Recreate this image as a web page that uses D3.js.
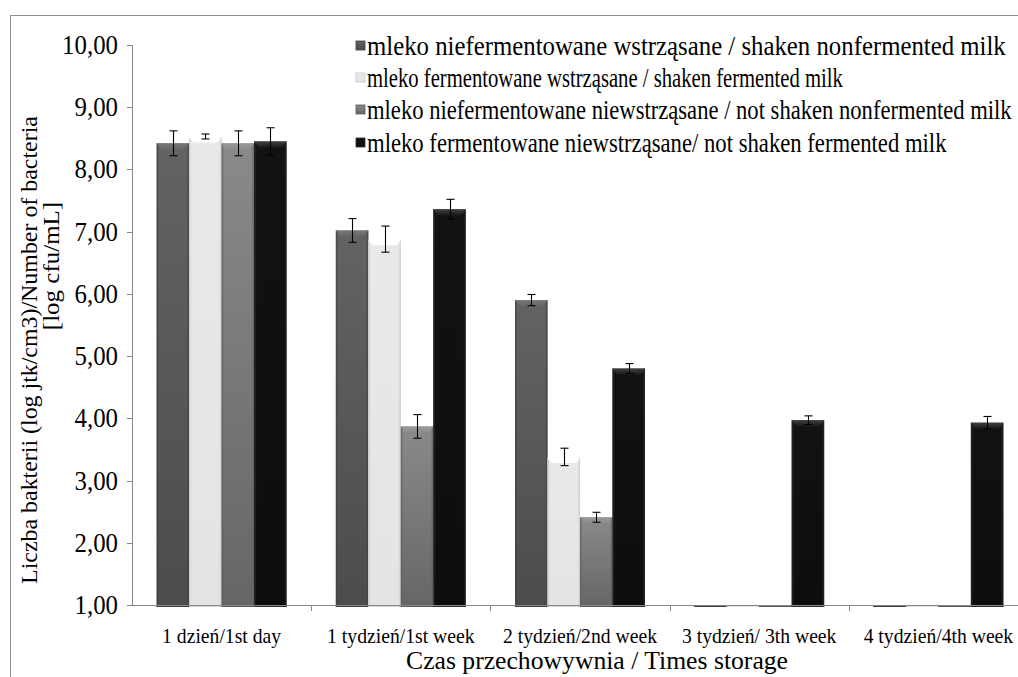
<!DOCTYPE html>
<html>
<head>
<meta charset="utf-8">
<script src="https://cdn.jsdelivr.net/npm/d3@7"></script>
<style>
  html, body { margin: 0; padding: 0; background: #fff; }
  svg { display: block; }
  text { font-family: "Liberation Serif", "Times New Roman", serif; fill: #000; }
</style>
</head>
<body>
<svg id="chart" width="1018" height="677"></svg>
<script>
// Storage time categories
const categories = ["1 dzień/1st day", "1 tydzień/1st week", "2 tydzień/2nd week", "3 tydzień/ 3th week", "4 tydzień/4th week"];

// Series names (legend)
const seriesNames = [
  "mleko niefermentowane wstrząsane / shaken nonfermented milk",
  "mleko fermentowane wstrząsane / shaken fermented milk",
  "mleko niefermentowane niewstrząsane / not shaken nonfermented milk",
  "mleko fermentowane niewstrząsane/ not shaken fermented milk"
];

// Mean counts [log cfu/mL] per category
const shakenNonfermented    = [8.42, 7.02, 5.90, 1.00, 1.00];
const shakenFermented       = [8.53, 6.88, 3.38, 1.00, 1.00];
const notShakenNonfermented = [8.42, 3.87, 2.41, 1.00, 1.00];
const notShakenFermented    = [8.45, 7.36, 4.80, 3.97, 3.93];

// Standard deviations
const errShakenNonfermented    = [0.20, 0.19, 0.09, 0, 0];
const errShakenFermented       = [0.04, 0.21, 0.14, 0, 0];
const errNotShakenNonfermented = [0.20, 0.19, 0.08, 0, 0];
const errNotShakenFermented    = [0.22, 0.16, 0.08, 0.07, 0.10];

// Y axis tick values
const yTicks = [1, 2, 3, 4, 5, 6, 7, 8, 9, 10];

const seriesValues = [shakenNonfermented, shakenFermented, notShakenNonfermented, notShakenFermented];
const seriesErrors = [errShakenNonfermented, errShakenFermented, errNotShakenNonfermented, errNotShakenFermented];

const svg = d3.select("#chart");
const W = 1018, H = 677;
const plot = { left: 132, right: 1028, top: 45, bottom: 605 };
const SQ = 0.9; // horizontal condensing of the lettering

// Text placed at an anchor point; horizontal text is squeezed along x,
// rotated text keeps its length and has its glyph height squeezed instead
function label(parent, o) {
  const g = parent.append("g")
    .attr("transform", `translate(${o.x},${o.y})` + (o.rotate ? " rotate(-90)" : ""));
  const t = g.append("text")
    .attr("x", 0).attr("y", 0)
    .attr("font-size", o.size)
    .attr("text-anchor", o.anchor || "start")
    .text(o.text);
  const n = t.node().getComputedTextLength();
  if (o.rotate) {
    const s = o.width ? o.width / n : 1;
    t.attr("transform", `scale(${s},${SQ})`);
  } else {
    const s = o.width ? o.width / n : (o.k || SQ);
    t.attr("transform", `scale(${s},1)`);
  }
  return t;
}

// Outer chart frame
svg.append("rect")
  .attr("x", 10.5).attr("y", 15.5)
  .attr("width", W + 20).attr("height", H + 20)
  .attr("fill", "none").attr("stroke", "#8e8e8e").attr("stroke-width", 1);

const x0 = d3.scaleBand().domain(categories).range([plot.left, plot.right])
  .paddingInner(0.275).paddingOuter(0.1375);
const x1 = d3.scaleBand().domain(d3.range(4)).range([0, x0.bandwidth()]).padding(0);
const y = d3.scaleLinear().domain([1, 10]).range([plot.bottom, plot.top]);

// Fills: vertical shading per series (lighter towards the top)
const fills = [
  { top: "#636363", bottom: "#4c4c4c", edge: "#3e3e3e", bevel: "#7a7a7a" },
  { top: "#e9e9e9", bottom: "#e4e4e4", edge: "#c8c8c8", bevel: "#f6f6f6" },
  { top: "#8a8a8a", bottom: "#666666", edge: "#5a5a5a", bevel: "#9c9c9c" },
  { top: "#121311", bottom: "#0d0e0c", edge: "#2a2a2a", bevel: "#454545" }
];
const defs = svg.append("defs");
fills.forEach((f, i) => {
  const g = defs.append("linearGradient").attr("id", "fillV" + i)
    .attr("x1", 0).attr("y1", 0).attr("x2", 0).attr("y2", 1);
  g.append("stop").attr("offset", "0%").attr("stop-color", f.top);
  g.append("stop").attr("offset", "100%").attr("stop-color", f.bottom);
  const h = defs.append("linearGradient").attr("id", "edgeH" + i)
    .attr("x1", 0).attr("y1", 0).attr("x2", 1).attr("y2", 0);
  h.append("stop").attr("offset", "0%").attr("stop-color", f.edge).attr("stop-opacity", 0.8);
  h.append("stop").attr("offset", "8%").attr("stop-color", f.edge).attr("stop-opacity", 0);
  h.append("stop").attr("offset", "92%").attr("stop-color", f.edge).attr("stop-opacity", 0);
  h.append("stop").attr("offset", "100%").attr("stop-color", f.edge).attr("stop-opacity", 0.8);
  const b = defs.append("linearGradient").attr("id", "bevel" + i)
    .attr("x1", 0).attr("y1", 0).attr("x2", 0).attr("y2", 1);
  b.append("stop").attr("offset", "0%").attr("stop-color", f.bevel).attr("stop-opacity", 0.9);
  b.append("stop").attr("offset", "100%").attr("stop-color", f.bevel).attr("stop-opacity", 0);
});

// Bars
const barData = [];
categories.forEach((c, ci) => {
  seriesValues.forEach((vals, si) => {
    barData.push({ cat: c, s: si, v: vals[ci], e: seriesErrors[si][ci] });
  });
});

const bars = svg.append("g").attr("class", "bars");
const base = y(1) + 2;
barData.forEach(d => {
  const bx = x0(d.cat) + x1(d.s);
  const bw = x1.bandwidth();
  const ty = y(d.v);
  const g = bars.append("g");
  if (d.s === 1) {
    // light series: dished top
    const dip = Math.min(6, base - ty);
    const path = d3.path();
    path.moveTo(bx, base);
    path.lineTo(bx, ty);
    path.quadraticCurveTo(bx + 2, ty + dip, bx + 7, ty + dip);
    path.lineTo(bx + bw - 7, ty + dip);
    path.quadraticCurveTo(bx + bw - 2, ty + dip, bx + bw, ty);
    path.lineTo(bx + bw, base);
    path.closePath();
    g.append("path").attr("d", path.toString()).attr("fill", "url(#fillV1)");
    g.append("path").attr("d", path.toString()).attr("fill", "url(#edgeH1)");
  } else {
    g.append("rect").attr("x", bx).attr("y", ty).attr("width", bw).attr("height", base - ty)
      .attr("fill", "url(#fillV" + d.s + ")");
    g.append("rect").attr("x", bx).attr("y", ty).attr("width", bw).attr("height", base - ty)
      .attr("fill", "url(#edgeH" + d.s + ")");
    if (base - ty > 8) {
      g.append("path")
        .attr("d", `M${bx},${ty}L${bx + bw},${ty}L${bx + bw - 5},${ty + 7}L${bx + 5},${ty + 7}Z`)
        .attr("fill", "url(#bevel" + d.s + ")");
    }
  }
  // bottom edge line
  g.append("rect").attr("x", bx).attr("y", base - 2).attr("width", bw).attr("height", 2)
    .attr("fill", fills[d.s].edge).attr("opacity", d.s === 1 ? 0.5 : 1);
});

// Axes
const axisColor = "#878787";
svg.append("line").attr("x1", plot.left + 0.5).attr("x2", plot.left + 0.5)
  .attr("y1", plot.top).attr("y2", plot.bottom).attr("stroke", axisColor);
svg.append("line").attr("x1", plot.left).attr("x2", plot.right)
  .attr("y1", plot.bottom + 0.5).attr("y2", plot.bottom + 0.5).attr("stroke", axisColor);

// Y ticks & labels
const fmt = v => v.toFixed(2).replace(".", ",");
const yLab = svg.append("g");
yTicks.forEach(t => {
  svg.append("line").attr("x1", plot.left - 5).attr("x2", plot.left)
    .attr("y1", Math.round(y(t)) + 0.5).attr("y2", Math.round(y(t)) + 0.5).attr("stroke", axisColor);
  label(yLab, { x: 118, y: y(t) + 9, text: fmt(t), size: 27, anchor: "end", k: 0.92 });
});

// X category boundary ticks
categories.slice(1).forEach(c => {
  const xx = Math.round(x0(c) - x0.step() * x0.paddingInner() / 2) + 0.5;
  svg.append("line").attr("x1", xx).attr("x2", xx).attr("y1", plot.bottom).attr("y2", plot.bottom + 6)
    .attr("stroke", axisColor);
});

// Category labels
const catG = svg.append("g");
const probe = catG.append("text").attr("font-size", 22).text(categories[0]);
const kCat = 119 / probe.node().getComputedTextLength();
probe.remove();
categories.forEach(c => {
  label(catG, { x: x0(c) + x0.bandwidth() / 2, y: 643, text: c, size: 22, anchor: "middle", k: kCat });
});

// Error bars
const eg = svg.append("g").attr("stroke", "#000").attr("stroke-width", 1.1);
barData.filter(d => d.e > 0).forEach(d => {
  const cx = Math.round(x0(d.cat) + x1(d.s) + x1.bandwidth() / 2) + 0.5;
  const y1 = y(d.v + d.e), y2 = y(d.v - d.e);
  eg.append("line").attr("x1", cx).attr("x2", cx).attr("y1", y1).attr("y2", y2);
  eg.append("line").attr("x1", cx - 4).attr("x2", cx + 4).attr("y1", y1).attr("y2", y1);
  eg.append("line").attr("x1", cx - 4).attr("x2", cx + 4).attr("y1", y2).attr("y2", y2);
});

// Axis titles
const titles = svg.append("g");
label(titles, { x: 597, y: 669, text: "Czas przechowywnia / Times storage", size: 26, anchor: "middle", width: 382 });
label(titles, { x: 37, y: 350, text: "Liczba bakterii (log jtk/cm3)/Number of bacteria", size: 25, anchor: "middle", width: 468, rotate: true });
label(titles, { x: 59, y: 266, text: "[log cfu/mL]", size: 25, anchor: "middle", rotate: true });

// Legend
const legendY = [46, 78, 110, 143];
const legendW = [639, 476, 645, 580];
const lg = svg.append("g");
seriesNames.forEach((name, i) => {
  const ly = legendY[i];
  lg.append("rect").attr("x", 356).attr("y", ly - 5).attr("width", 9).attr("height", 9)
    .attr("fill", "url(#fillV" + i + ")").attr("stroke", fills[i].edge).attr("stroke-width", 0.8);
  label(lg, { x: 367, y: ly + 9, text: name, size: 28, width: legendW[i] });
});
</script>
</body>
</html>
